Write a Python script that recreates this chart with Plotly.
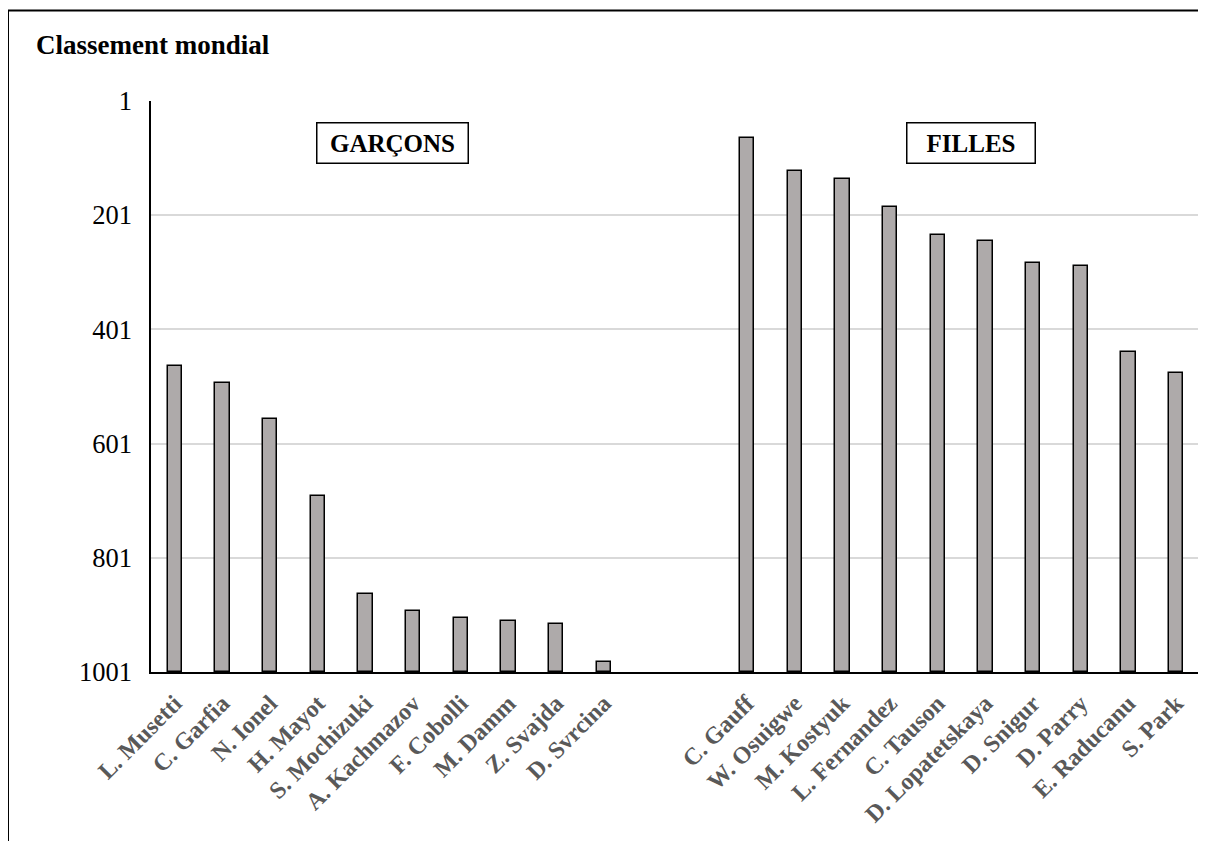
import plotly.graph_objects as go

boys_names = ["L. Musetti", "C. Garfia", "N. Ionel", "H. Mayot", "S. Mochizuki",
              "A. Kachmazov", "F. Cobolli", "M. Damm", "Z. Svajda", "D. Svrcina"]
boys_rank = [465, 495, 558, 692, 864, 895, 907, 911, 917, 983]

girls_names = ["C. Gauff", "W. Osuigwe", "M. Kostyuk", "L. Fernandez", "C. Tauson",
               "D. Lopatetskaya", "D. Snigur", "D. Parry", "E. Raducanu", "S. Park"]
girls_rank = [65, 124, 138, 187, 236, 247, 285, 290, 440, 478]

y_ticks = [1, 201, 401, 601, 801, 1001]
axis_bottom = 1001
gap = 2  # empty category slots between the two groups

names = boys_names + girls_names
ranks = boys_rank + girls_rank
xpos = list(range(len(boys_names))) + [len(boys_names) + gap + i for i in range(len(girls_names))]

SERIF = "Liberation Serif, Times New Roman, serif"

# page body has an 8px default margin; figure coordinates are offset by it
OFF = 8
L, T, R, B = 151 - OFF, 101 - OFF, 1200 - OFF, 672 - OFF
W, H = 1198, 833
PW, PH = R - L, B - T

fig = go.Figure()
fig.add_trace(go.Bar(
    x=xpos,
    y=[r - axis_bottom for r in ranks],
    base=axis_bottom,
    width=0.3,
    marker=dict(color="#AEAAAA", line=dict(color="black", width=1.5)),
    customdata=ranks,
    hovertemplate="%{customdata}<extra></extra>",
))

fig.update_layout(
    width=W, height=H,
    margin=dict(l=L, r=W - R, t=T, b=H - B, autoexpand=False),
    paper_bgcolor="white", plot_bgcolor="white",
    showlegend=False,
    bargap=0,
    font=dict(family=SERIF, color="black"),
)

fig.update_xaxes(
    range=[-0.5, len(boys_names) + gap + len(girls_names) - 0.5],
    tickmode="array", tickvals=xpos, ticktext=names,
    tickangle=-45,
    tickfont=dict(family=SERIF, size=24, color="#595959", weight="bold"),
    showgrid=False, zeroline=False,
    showline=True, linecolor="black", linewidth=1.5,
    ticks="", ticklabelstandoff=6,
)
fig.update_yaxes(
    range=[axis_bottom, 1],
    tickmode="array", tickvals=y_ticks,
    tickfont=dict(family=SERIF, size=26.5, color="black"),
    showgrid=True, gridcolor="#D9D9D9", gridwidth=1.5,
    zeroline=False,
    showline=True, linecolor="black", linewidth=1.5,
    ticks="", ticklabelstandoff=12,
)

# Chart title
fig.add_annotation(
    text="<b>Classement mondial</b>", xref="paper", yref="paper",
    x=(34 - OFF - L) / PW, y=(B - (45 - OFF)) / PH,
    xanchor="left", yanchor="middle", showarrow=False,
    font=dict(family=SERIF, size=27, color="black"),
)

# Group labels
for label, xc, bw in [("GARÇONS", 4.57, 138), ("FILLES", 16.7, 115)]:
    fig.add_annotation(
        text="<b>" + label + "</b>", x=xc, y=74, xref="x", yref="y",
        showarrow=False,
        font=dict(family=SERIF, size=25, color="black"),
        bordercolor="black", borderwidth=1.5, borderpad=6,
        bgcolor="white",
        width=bw, height=27,
    )

# Outer chart border
fig.add_shape(
    type="rect", xref="paper", yref="paper",
    x0=(8 - OFF - L) / PW, x1=1.05,
    y0=-0.5, y1=(B - (10.5 - OFF)) / PH,
    line=dict(color="black", width=2), fillcolor="rgba(0,0,0,0)", layer="above",
)

fig.write_html("out.html")
